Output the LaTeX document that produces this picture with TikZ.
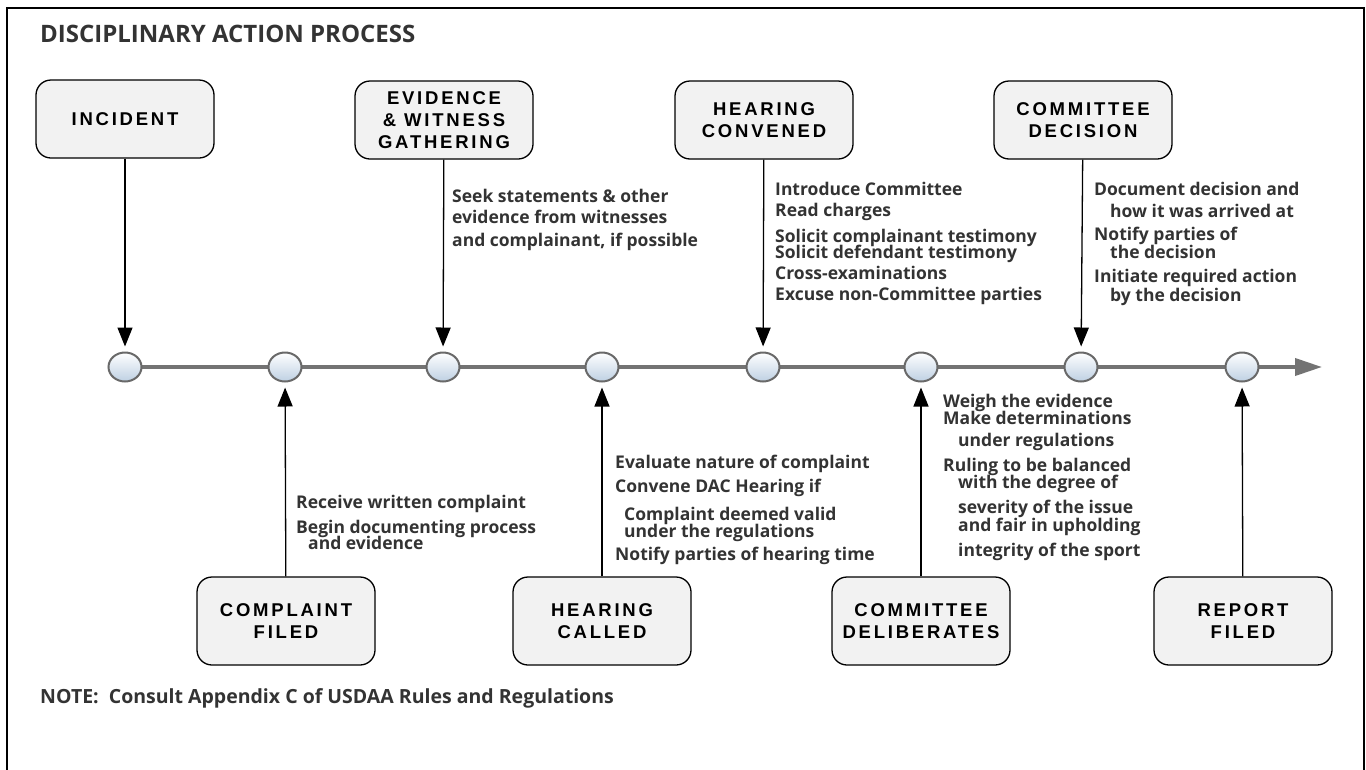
\documentclass[tikz,border=0pt]{standalone}
\usepackage{fontspec}
\setmainfont{Open Sans}
\newfontfamily\boxfont[LetterSpace=15]{Liberation Sans}
\usetikzlibrary{arrows.meta,shapes.geometric}
\definecolor{txt}{RGB}{51,51,51}
\definecolor{boxfill}{RGB}{242,242,242}
\definecolor{dotrim}{RGB}{105,105,105}
\definecolor{dotblue}{RGB}{190,208,226}
\definecolor{axis}{RGB}{115,115,115}
\newcommand\boxlabel{\boxfont\bfseries\fontsize{18.5}{22}\selectfont}
\newcommand\bodyfont{\bfseries\fontsize{17.5}{20}\selectfont}
\begin{document}
\begin{tikzpicture}[x=1pt,y=-1pt,
  stage/.style={draw=black, line width=1.3pt, fill=boxfill, rounded corners=15pt, minimum width=178pt, inner sep=0pt, align=center, font=\boxlabel, text=black},
  topstage/.style={stage, minimum height=78pt},
  botstage/.style={stage, minimum height=88pt},
  dot/.style={ellipse, minimum width=33pt, minimum height=29pt, draw=dotrim, line width=2pt, top color=white, bottom color=dotblue, inner sep=0pt},
  conn/.style={line width=1.3pt, -{Triangle[length=19pt,width=15pt]}, shorten >=5pt},
  body/.style={font=\bodyfont, text=txt, inner sep=0pt, anchor=base west},
]
\useasboundingbox (0,0) rectangle (1366,769);
\fill[white] (0,0) rectangle (1366,769);
\draw[line width=1.6pt] (7,790) -- (7,8) -- (1364,8) -- (1364,790);

\node[font=\bfseries\fontsize{24}{28}\selectfont, text=txt, inner sep=0pt, anchor=base west] (title) at (40,42) {DISCIPLINARY ACTION PROCESS};
\node[font=\bfseries\fontsize{19.5}{23}\selectfont, text=txt, inner sep=0pt, anchor=base west] (note) at (40,703) {NOTE:\ \ Consult Appendix C of USDAA Rules and Regulations};

% timeline
\coordinate (tstart) at (125,367);
\coordinate (tend) at (1322,367);
\draw[axis, line width=3.8pt, -{Triangle[length=27pt,width=17pt]}] (tstart) -- (tend);

\foreach \n/\x in {d1/125,d2/285,d3/443,d4/602,d5/763,d6/921,d7/1081,d8/1242}
  \node[dot] (\n) at (\x,367) {};

% top stages
\node[topstage] (incident) at (125,119) {INCIDENT};
\node[topstage] (evidence) at (444,120) {EVIDENCE\\\& WITNESS\\GATHERING};
\node[topstage] (convened) at (764,120) {HEARING\\CONVENED};
\node[topstage] (decision) at (1083,120) {COMMITTEE\\DECISION};
% bottom stages
\node[botstage] (complaint) at (286,621) {COMPLAINT\\FILED};
\node[botstage] (called) at (602,621) {HEARING\\CALLED};
\node[botstage] (deliberates) at (921,621) {COMMITTEE\\DELIBERATES};
\node[botstage] (report) at (1243,621) {REPORT\\FILED};

\draw[conn] (incident) -- (d1);
\draw[conn] (evidence) -- (d3);
\draw[conn] (convened) -- (d5);
\draw[conn] (decision) -- (d7);
\draw[conn] (complaint) -- (d2);
\draw[conn] (called) -- (d4);
\draw[conn] (deliberates) -- (d6);
\draw[conn] (report) -- (d8);

% texts
\foreach \t/\x/\y [count=\i] in {Seek statements \& other/452/202, evidence from witnesses/452/223, {and complainant, if possible}/452/246}
  \node[body] (ev\i) at (\x,\y) {\t};
\foreach \t/\x/\y [count=\i] in {Introduce Committee/775/195, Read charges/775/216, Solicit complainant testimony/775/242, Solicit defendant testimony/775/258, Cross-examinations/775/279, Excuse non-Committee parties/775/300}
  \node[body] (hc\i) at (\x,\y) {\t};
\foreach \t/\x/\y [count=\i] in {Document decision and/1094/195, how it was arrived at/1110/217, Notify parties of/1094/240, the decision/1110/258, Initiate required action/1094/282, by the decision/1110/301}
  \node[body] (cd\i) at (\x,\y) {\t};
\foreach \t/\x/\y [count=\i] in {Receive written complaint/296/508, Begin documenting process/296/533, and evidence/308/549}
  \node[body] (cf\i) at (\x,\y) {\t};
\foreach \t/\x/\y [count=\i] in {Evaluate nature of complaint/615/468, Convene DAC Hearing if/615/492, Complaint deemed valid/624/520, under the regulations/624/537, Notify parties of hearing time/615/560}
  \node[body] (hk\i) at (\x,\y) {\t};
\foreach \t/\x/\y [count=\i] in {Weigh the evidence/943/407, Make determinations/943/424, under regulations/958/446, Ruling to be balanced/943/471, with the degree of/958/488, severity of the issue/958/513, and fair in upholding/958/531, integrity of the sport/958/556}
  \node[body] (de\i) at (\x,\y) {\t};
\end{tikzpicture}
\end{document}
